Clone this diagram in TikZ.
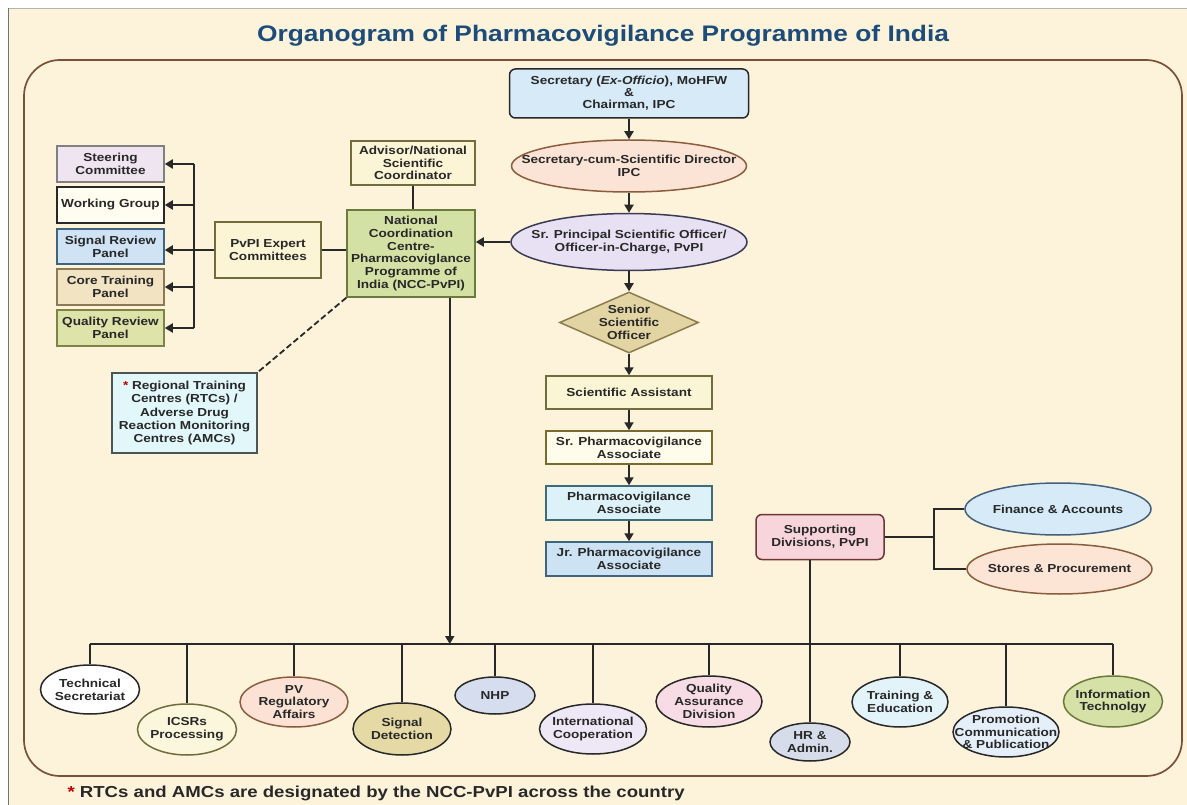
\documentclass[tikz,border=0pt]{standalone}
\usepackage{fontspec}
\setmainfont{Liberation Sans}[FakeStretch=1.17]
\usepackage{tikz}
\usetikzlibrary{shapes.geometric,arrows.meta}

\definecolor{cream}{RGB}{253,243,218}
\definecolor{frame}{RGB}{122,80,56}
\definecolor{titleblue}{RGB}{28,76,122}
\definecolor{ink}{RGB}{40,40,40}
\definecolor{olive}{RGB}{112,108,60}
\definecolor{brownish}{RGB}{140,92,62}
\definecolor{slateblue}{RGB}{62,100,128}

\newcommand\boxfont{\bfseries\fontsize{11.6}{12.8}\selectfont}

\tikzset{
  bx/.style={rectangle, line width=1.5pt, align=center, inner sep=1pt, font=\boxfont, text=ink},
  ov/.style={ellipse, line width=1.5pt, inner sep=0pt},
  lbl/.style={align=center, font=\boxfont, text=ink, inner sep=0pt},
  ln/.style={line width=1.8pt, draw=ink},
  arr/.style={ln, -{Triangle[length=8pt,width=9pt]}}
}

\begin{document}
\begin{tikzpicture}[x=1pt,y=-1pt]
\useasboundingbox (0,0) rectangle (1187,805);
% background and frame
\fill[white] (0,0) rectangle (1187,805);
\fill[cream] (8,8) rectangle (1187,805);
\draw[gray!60] (8,8) -- (1187,8);
\draw[gray!90!black] (8,8) -- (8,805);
\draw[frame, line width=1.7pt, rounded corners=36pt] (24,60) rectangle (1182,776);
\node[font=\bfseries\fontsize{22.5}{27}\selectfont, text=titleblue] (title) at (603,36) {Organogram of Pharmacovigilance Programme of India};

% main column
\node[bx, rounded corners=6pt, minimum width=239, minimum height=49, fill={rgb,255:red,214;green,234;blue,248}, draw=ink,
  font=\bfseries\fontsize{11.6}{11.9}\selectfont] (sec) at (629,93.5) {Secretary (\textit{Ex-Officio}), MoHFW\\\&\\Chairman, IPC};
\node[ov, minimum width=235, minimum height=52, fill={rgb,255:red,251;green,228;blue,213}, draw=brownish,
  label={[lbl]center:Secretary-cum-Scientific Director\\IPC}] (sd) at (629,166) {};
\node[ov, minimum width=236, minimum height=57, fill={rgb,255:red,231;green,225;blue,243}, draw={rgb,255:red,58;green,58;blue,85},
  label={[lbl]center:Sr. Principal Scientific Officer/\\Officer-in-Charge, PvPI}] (spso) at (629,242) {};
\node[diamond, line width=1.5pt, inner sep=0pt, minimum width=139, minimum height=61, fill={rgb,255:red,226;green,212;blue,163}, draw={rgb,255:red,138;green,124;blue,78},
  label={[lbl]center:Senior\\Scientific\\Officer}] (sso) at (629,322.5) {};
\node[bx, minimum width=166, minimum height=33, fill={rgb,255:red,250;green,245;blue,212}, draw=olive] (sa) at (629,392.5) {Scientific Assistant};
\node[bx, minimum width=166, minimum height=33, fill={rgb,255:red,255;green,252;blue,236}, draw={rgb,255:red,122;green,106;blue,46}] (srpva) at (629,447.5) {Sr. Pharmacovigilance\\Associate};
\node[bx, minimum width=166, minimum height=34, fill={rgb,255:red,220;green,242;blue,248}, draw={rgb,255:red,61;green,107;blue,120}] (pva) at (629,503) {Pharmacovigilance\\Associate};
\node[bx, minimum width=166, minimum height=34, fill={rgb,255:red,205;green,226;blue,242}, draw=slateblue] (jrpva) at (629,559) {Jr. Pharmacovigilance\\Associate};
\foreach \a/\b in {sec/sd,sd/spso,spso/sso,sso/sa,sa/srpva,srpva/pva,pva/jrpva}
  \draw[arr] (\a.south) -- (\b.north);

% national coordination centre
\node[bx, minimum width=128, minimum height=87, fill={rgb,255:red,211;green,226;blue,164}, draw={rgb,255:red,107;green,123;blue,62}] (ncc) at (411,253.5)
  {National\\Coordination\\Centre-\\Pharmacoviglance\\Programme of\\India (NCC-PvPI)};
\node[bx, minimum width=124, minimum height=44, fill={rgb,255:red,251;green,245;blue,214}, draw=olive] (adv) at (413,163) {Advisor/National\\Scientific\\Coordinator};
\node[bx, minimum width=106, minimum height=56, fill={rgb,255:red,251;green,245;blue,214}, draw=olive] (pvpi) at (268,250) {PvPI Expert\\Committees};
\draw[ln] (adv.south) -- (adv.south |- ncc.north);
\draw[ln] (pvpi.east) -- (pvpi.east -| ncc.west);
\draw[arr] (spso.west) -- (spso.west -| ncc.east);

% expert committees
\node[bx, minimum width=107, minimum height=36, fill={rgb,255:red,239;green,229;blue,240}, draw=gray] (stc) at (110.5,164) {Steering\\Committee};
\node[bx, minimum width=107, minimum height=36, fill={rgb,255:red,255;green,253;blue,240}, draw=ink] (wg) at (110.5,205) {Working Group};
\node[bx, minimum width=107, minimum height=35, fill={rgb,255:red,207;green,227;blue,245}, draw=slateblue] (srp) at (110.5,246.5) {Signal Review\\Panel};
\node[bx, minimum width=107, minimum height=36, fill={rgb,255:red,242;green,227;blue,195}, draw={rgb,255:red,140;green,122;blue,85}] (ctp) at (110.5,287) {Core Training\\Panel};
\node[bx, minimum width=107, minimum height=36, fill={rgb,255:red,221;green,227;blue,169}, draw={rgb,255:red,125;green,132;blue,70}] (qrp) at (110.5,328) {Quality Review\\Panel};
\coordinate (bk) at (194,250);
\draw[ln] (stc.east -| bk) -- (qrp.east -| bk);
\foreach \n in {stc,wg,ctp,qrp}
  \draw[arr] (\n.east -| bk) -- (\n.east);
\draw[arr] (pvpi.west) -- (pvpi.west -| srp.east);

% regional centres
\node[bx, minimum width=145, minimum height=80, fill={rgb,255:red,225;green,247;blue,250}, draw={rgb,255:red,74;green,86;blue,86},
  font=\bfseries\fontsize{11.6}{13.2}\selectfont] (rtc) at (184.5,413)
  {{\color{red!75!black}*} Regional Training\\Centres (RTCs) /\\Adverse Drug\\Reaction Monitoring\\Centres (AMCs)};
\draw[ln, dash pattern=on 6pt off 3pt] (ncc.south west) -- (rtc.north east);

% supporting divisions
\node[bx, rounded corners=6pt, minimum width=128, minimum height=45, fill={rgb,255:red,248;green,213;blue,218}, draw={rgb,255:red,110;green,53;blue,53}] (sup) at (820,537) {Supporting\\Divisions, PvPI};
\node[ov, minimum width=186, minimum height=52, fill={rgb,255:red,214;green,234;blue,248}, draw={rgb,255:red,68;green,96;blue,122},
  label={[lbl]center:Finance \& Accounts}] (fa) at (1058,509) {};
\node[ov, minimum width=185, minimum height=50, fill={rgb,255:red,252;green,229;blue,213}, draw=brownish,
  label={[lbl]center:Stores \& Procurement}] (stp) at (1059.5,569) {};
\coordinate (fork) at ([xshift=49pt]sup.east);
\draw[ln] (sup.east) -- (fork);
\draw[ln] (fa.west) -| (fork) |- (stp.west);

% divisions row
\node[ov, minimum width=99, minimum height=49, fill=white, draw=ink, label={[lbl]center:Technical\\Secretariat}] (ts) at (90,689.5) {};
\node[ov, minimum width=99, minimum height=51, fill={rgb,255:red,250;green,247;blue,220}, draw=olive, label={[lbl]center:ICSRs\\Processing}] (icsr) at (187,729.5) {};
\node[ov, minimum width=108, minimum height=50, fill={rgb,255:red,251;green,226;blue,212}, draw=brownish, label={[lbl]center:PV\\Regulatory\\Affairs}] (pvra) at (294,702) {};
\node[ov, minimum width=98, minimum height=52, fill={rgb,255:red,229;green,218;blue,166}, draw=ink, label={[lbl]center:Signal\\Detection}] (sdet) at (402,729) {};
\node[ov, minimum width=80, minimum height=37, fill={rgb,255:red,213;green,221;blue,238}, draw=ink, label={[lbl]center:NHP}] (nhp) at (495,695.5) {};
\node[ov, minimum width=107, minimum height=50, fill={rgb,255:red,238;green,231;blue,245}, draw=ink, label={[lbl]center:International\\Cooperation}] (ic) at (593,729) {};
\node[ov, minimum width=106, minimum height=51, fill={rgb,255:red,248;green,220;blue,229}, draw=ink, label={[lbl]center:Quality\\Assurance\\Division}] (qad) at (709,701.5) {};
\node[ov, minimum width=80, minimum height=38, fill={rgb,255:red,214;green,220;blue,234}, draw=ink, label={[lbl]center:HR \&\\Admin.}] (hr) at (810,742) {};
\node[ov, minimum width=96, minimum height=50, fill={rgb,255:red,226;green,243;blue,249}, draw=ink, label={[lbl]center:Training \&\\Education}] (te) at (900,702) {};
\node[ov, minimum width=106, minimum height=50, fill={rgb,255:red,229;green,239;blue,249}, draw=ink, label={[lbl]center:Promotion\\Communication\\\& Publication}] (pcp) at (1006,732) {};
\node[ov, minimum width=99, minimum height=51, fill={rgb,255:red,213;green,225;blue,166}, draw={rgb,255:red,107;green,122;blue,60}, label={[lbl]center:Information\\Technolgy}] (it) at (1113,701.5) {};
\coordinate (bus) at (600,644);
\draw[ln] (ts.north |- bus) -- (it.north |- bus);
\foreach \n in {ts,icsr,pvra,sdet,nhp,ic,qad,te,pcp,it}
  \draw[ln] (\n.north |- bus) -- (\n.north);
\draw[ln] (hr.north |- sup.south) -- (hr.north);
\draw[arr] ([xshift=-26pt]ncc.south east) -- ([xshift=-26pt]ncc.south east |- bus);

% footnote
\node[anchor=west, font=\bfseries\fontsize{15.9}{19}\selectfont, text=ink] (note) at (64,793)
  {{\color{red!75!black}*} RTCs and AMCs are designated by the NCC-PvPI across the country};
\end{tikzpicture}
\end{document}
